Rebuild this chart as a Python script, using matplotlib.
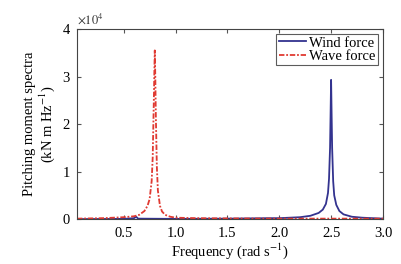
import matplotlib
matplotlib.use('agg')
import matplotlib.pyplot as plt
import numpy as np

plt.rcParams['font.family'] = ['Liberation Serif', 'DejaVu Serif']
plt.rcParams['mathtext.fontset'] = 'stix'

# wave force spectrum (x1e4 kN m Hz^-1)
wave_freq = [0.05, 0.3, 0.5, 0.6, 0.65, 0.70, 0.73, 0.75, 0.77, 0.78, 0.79, 0.795,
             0.80, 0.805, 0.81, 0.82, 0.83, 0.85, 0.87, 0.9, 0.95, 1.0, 1.2, 1.5,
             2.0, 2.5, 3.0]
wave_spec = [0.01, 0.02, 0.04, 0.06, 0.09, 0.17, 0.28, 0.42, 0.8, 1.3, 2.4, 3.0,
             3.55, 3.0, 2.2, 1.1, 0.6, 0.28, 0.16, 0.09, 0.05, 0.03, 0.02, 0.015,
             0.01, 0.01, 0.01]

# wind force spectrum
wind_freq = [0.05, 0.5, 0.6, 0.62, 0.64, 1.0, 1.5, 1.9, 2.0, 2.2, 2.3, 2.38, 2.42,
             2.45, 2.47, 2.48, 2.49, 2.495, 2.5, 2.505, 2.51, 2.52, 2.53, 2.55,
             2.58, 2.62, 2.7, 2.8, 3.0]
wind_spec = [0.0, 0.005, 0.02, 0.05, 0.01, 0.005, 0.01, 0.02, 0.02, 0.04, 0.07,
             0.13, 0.2, 0.32, 0.55, 0.85, 1.5, 2.2, 2.93, 2.2, 1.5, 0.8, 0.5, 0.3,
             0.17, 0.1, 0.05, 0.03, 0.01]

xticks = [0.5, 1.0, 1.5, 2.0, 2.5, 3.0]
yticks = [0, 1, 2, 3, 4]

fig = plt.figure(figsize=(4.01, 2.64), dpi=100)
ax = fig.add_axes([0.192, 0.170, 0.763, 0.720])

ax.plot(wind_freq, wind_spec, color='#33338f', lw=1.3, label='Wind force')
ax.plot(wave_freq, wave_spec, color='#e03a32', lw=1.3, dashes=(3, 1, 1, 1),
        label='Wave force')

ax.set_xlim(0.05, 3.0)
ax.set_ylim(0, 4)
ax.set_xticks(xticks)
ax.set_xticklabels(['%.1f' % t for t in xticks])
ax.set_yticks(yticks)
ax.tick_params(direction='in', top=True, right=True, labelsize=10.5, length=3,
               color='#555555')
ax.tick_params(axis='x', pad=6)
ax.tick_params(axis='y', pad=5)
for s in ax.spines.values():
    s.set_color('#444444')

ax.text(0.0, 1.015, r'$\times10^4$', transform=ax.transAxes, fontsize=9,
        ha='left', va='bottom', color='#333333')

ax.set_xlabel('Frequency (rad s$^{-1}$)', fontsize=10.5, labelpad=1)
ax.set_ylabel('Pitching moment spectra\n(kN m Hz$^{-1}$)', fontsize=10.5,
              labelpad=4, linespacing=1.1)

leg = ax.legend(loc='upper right', fontsize=10.5, frameon=True, fancybox=False,
                edgecolor='#333333', handlelength=1.9, borderpad=0.15,
                labelspacing=0.0, handletextpad=0.2, borderaxespad=0.35)
leg.get_frame().set_linewidth(0.8)

plt.savefig('out.png', dpi=100)
